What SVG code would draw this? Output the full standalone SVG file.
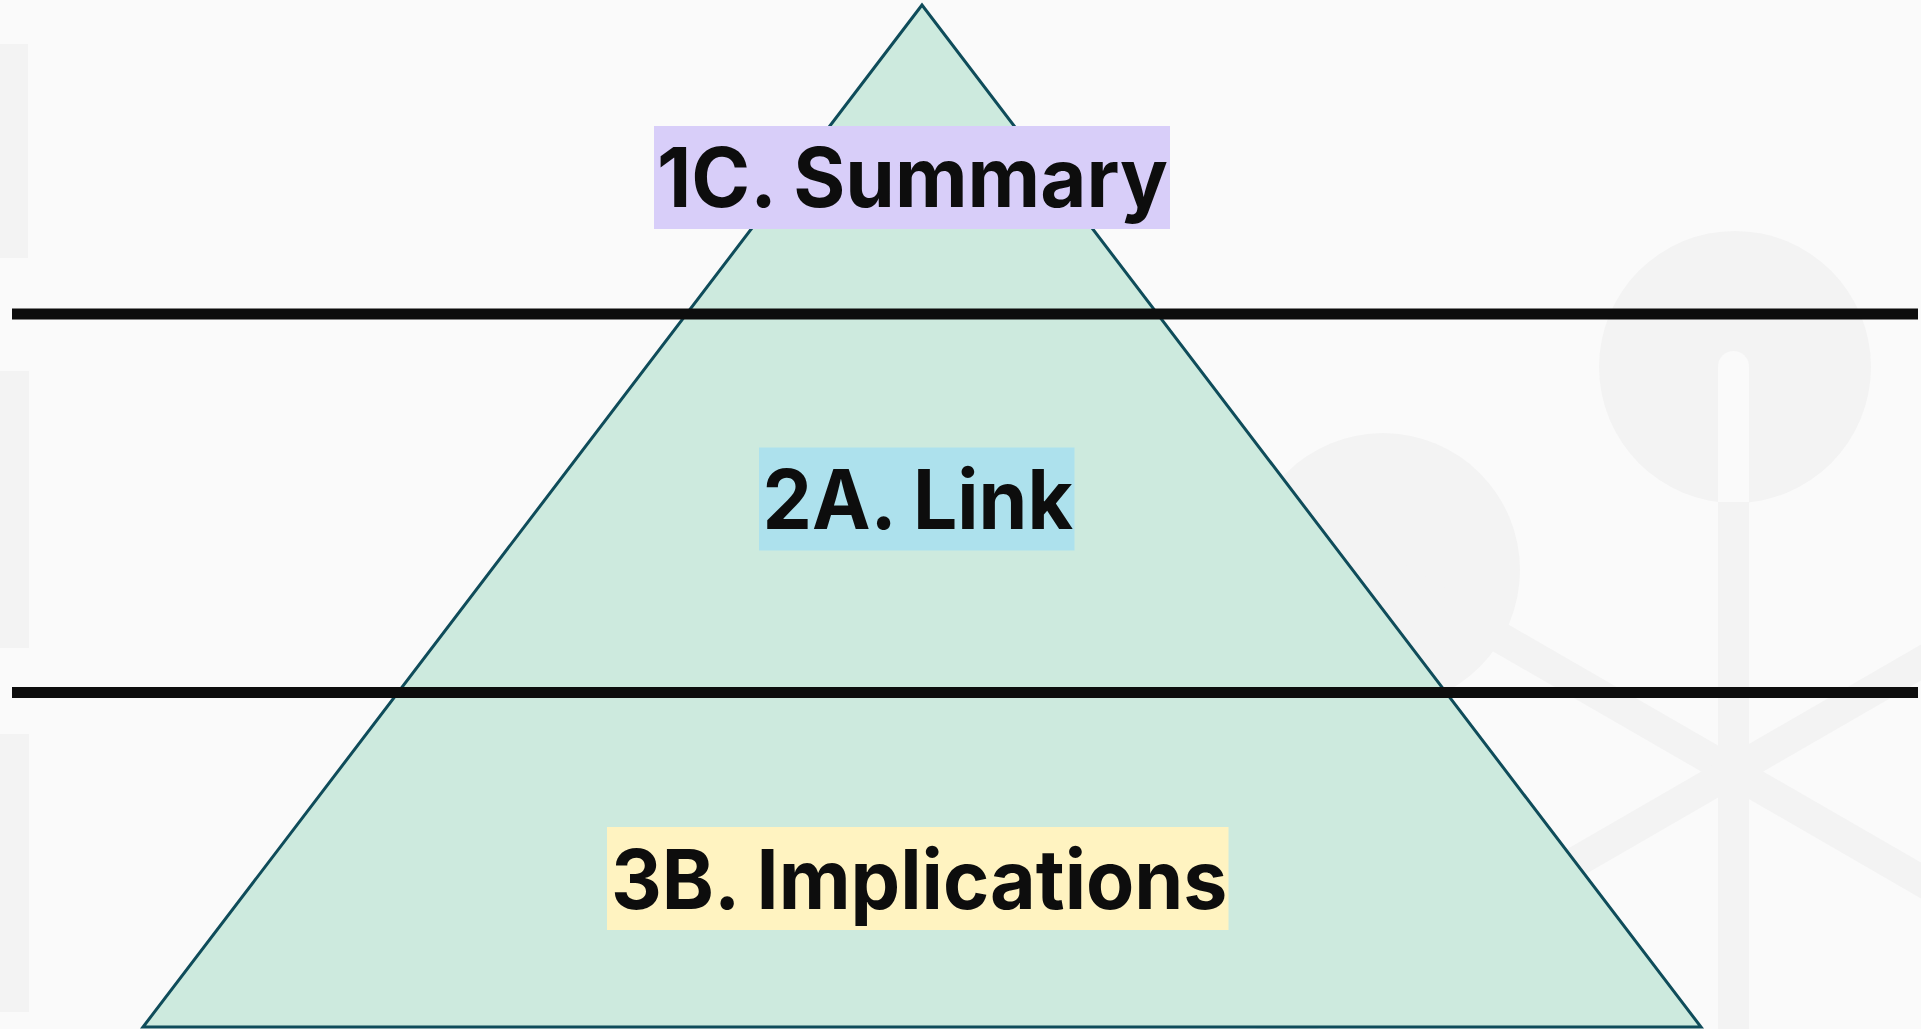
<svg xmlns="http://www.w3.org/2000/svg" width="1921" height="1029" viewBox="0 0 1921 1029">
  <style>
    .deco { fill: #f3f3f3; }
    .decoline { stroke: #f3f3f3; stroke-width: 31; fill: none; }
    .divider { fill: #0d0d0d; }
    .label { font-family: Inter, "Open Sans", "Liberation Sans", sans-serif; font-weight: 700; font-size: 82px; fill: #0d0d0d; }
  </style>
  <rect x="0" y="0" width="1921" height="1029" fill="#fafafa"/>
  <g id="background-decoration">
    <rect class="deco" x="0" y="44" width="28" height="214"/>
    <rect class="deco" x="0" y="371" width="29" height="277"/>
    <rect class="deco" x="0" y="734" width="29" height="278"/>
    <circle class="deco" cx="1383" cy="570" r="137"/>
    <line class="decoline" x1="1383" y1="570" x2="1960" y2="903"/>
    <line class="decoline" x1="1250" y1="1050" x2="1960" y2="640"/>
    <circle class="deco" cx="1735" cy="367" r="136"/>
    <path d="M1718,502.5 V366.5 A15.5,15.5 0 0 1 1749,366.5 V502.5 Z" fill="#fafafa"/>
    <rect class="deco" x="1718" y="502" width="31" height="527"/>
  </g>
  <g id="pyramid">
    <polygon points="922,5 143,1027 1701,1027" fill="#cdeade" stroke="#0f4c5a" stroke-width="3" stroke-linejoin="miter"/>
  </g>
  <g id="connectors">
    <rect class="divider" x="12" y="308.5" width="1906" height="11"/>
    <rect class="divider" x="12" y="687" width="1906" height="11"/>
  </g>
  <g id="node-1c-summary">
    <rect x="654" y="126" width="516" height="103" fill="#d8cef9"/>
    <text class="label" x="657" y="207" textLength="511" lengthAdjust="spacingAndGlyphs">1C. Summary</text>
  </g>
  <g id="node-2a-link">
    <rect x="759" y="447.5" width="315.5" height="103" fill="#ade1ed"/>
    <text class="label" x="762.5" y="529.3" textLength="310.5" lengthAdjust="spacingAndGlyphs">2A. Link</text>
  </g>
  <g id="node-3b-implications">
    <rect x="607" y="827" width="621.5" height="103" fill="#fff3c1"/>
    <text class="label" x="611" y="908.5" textLength="616.5" lengthAdjust="spacingAndGlyphs">3B. Implications</text>
  </g>
</svg>
